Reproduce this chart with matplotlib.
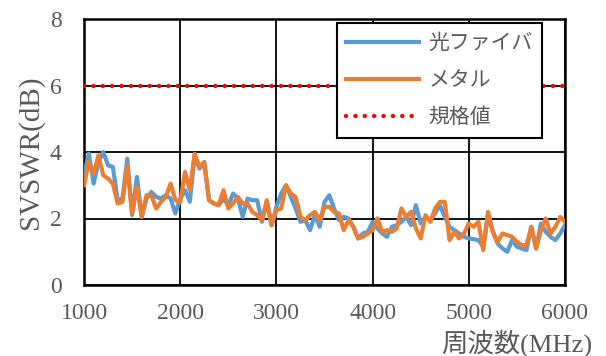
import numpy as np
import matplotlib
matplotlib.use("Agg")
import matplotlib.pyplot as plt

plt.rcParams['font.family'] = ['Liberation Serif', 'Noto Sans CJK JP']

# measured SVSWR, 1000-6000 MHz every 50 MHz
freq = list(range(1000, 6001, 50))
fiber = [3.3, 3.95, 3.05, 3.7, 4.0, 3.6, 3.55, 2.55, 2.6, 3.8,
         2.1, 3.25, 2.05, 2.6, 2.8, 2.65, 2.6, 2.7, 2.6, 2.15,
         2.6, 2.85, 2.5, 3.9, 3.5, 3.65, 2.55, 2.45, 2.4, 2.6,
         2.4, 2.75, 2.6, 2.05, 2.6, 2.55, 2.55, 1.9, 2.5, 1.8,
         2.35, 2.75, 3.0, 2.65, 2.3, 1.9, 1.95, 1.65, 2.1, 1.75,
         2.5, 2.7, 2.3, 1.95, 2.05, 2.0, 1.75, 1.4, 1.55, 1.6,
         1.9, 1.7, 1.55, 1.45, 1.75, 1.8, 1.9, 2.05, 1.8, 2.4,
         1.85, 2.05, 1.95, 2.15, 2.4, 2.05, 1.75, 1.65, 1.55, 1.45,
         1.4, 1.38, 1.35, 1.15, 2.1, 1.6, 1.25, 1.1, 1.0, 1.35,
         1.15, 1.1, 1.05, 1.75, 1.1, 1.85, 1.6, 1.45, 1.35, 1.55,
         1.8]
metal = [3.0, 3.7, 3.35, 3.9, 3.3, 3.2, 3.05, 2.45, 2.5, 3.6,
         2.15, 2.95, 2.05, 2.7, 2.7, 2.3, 2.5, 2.65, 3.05, 2.55,
         2.5, 3.4, 2.85, 3.95, 3.55, 3.7, 2.55, 2.45, 2.4, 2.85,
         2.3, 2.45, 2.65, 2.45, 2.45, 2.2, 2.1, 1.95, 2.55, 1.8,
         2.25, 2.3, 3.0, 2.75, 2.65, 2.05, 1.95, 2.1, 2.2, 1.95,
         2.35, 2.35, 2.2, 2.15, 1.65, 1.95, 1.75, 1.4, 1.45, 1.55,
         1.65, 2.0, 1.6, 1.65, 1.6, 1.7, 2.3, 2.05, 2.2, 1.7,
         1.4, 2.1, 1.9, 2.3, 2.5, 2.5, 1.35, 1.6, 1.4, 1.55,
         1.85, 1.75, 1.9, 1.05, 2.2, 1.6, 1.3, 1.55, 1.5, 1.45,
         1.3, 1.2, 1.2, 1.75, 1.1, 1.65, 2.0, 1.55, 1.75, 2.05,
         1.9]
limit = 6.0
series_names = ['光ファイバ', 'メタル', '規格値']

fig = plt.figure(figsize=(6.06, 3.56), dpi=100)
ax = fig.add_axes([84/606, 1-285/356, 481/606, 266/356])

ax.plot(freq, fiber, color='#5B9BD5', lw=3.0, solid_joinstyle='round', label=series_names[0], zorder=3)
ax.plot(freq, metal, color='#ED7D31', lw=3.0, solid_joinstyle='round', label=series_names[1], zorder=4)
ax.plot([freq[0], freq[-1]], [limit, limit], color='#FF0000', lw=3.2,
        linestyle=(0, (0.01, 2.1)), dash_capstyle='round', label=series_names[2], zorder=5)

ax.set_xlim(1000, 6000)
ax.set_ylim(0, 8)
ax.set_xticks(range(1000, 6001, 1000))
ax.set_yticks(range(0, 9, 2))
ax.grid(True, color='black', lw=1.3)
ax.set_axisbelow(True)
for s in ax.spines.values():
    s.set_linewidth(1.8)
    s.set_color('black')
ax.tick_params(length=0, labelsize=17, labelcolor='#595959')
ax.tick_params(axis='x', pad=13)
ax.tick_params(axis='y', pad=16)

ax.set_ylabel('SVSWR(dB)', fontsize=21, color='#595959', labelpad=4)
fig.text(592/606, 1-343/356, '周波数(MHz)', fontsize=19, color='#595959',
         ha='right', va='center', family=['Liberation Serif', 'Noto Sans CJK JP'])

leg = ax.legend(loc='upper right', bbox_to_anchor=(542/606, 1-23/356),
                bbox_transform=fig.transFigure, handlelength=3.5, handletextpad=0.45,
                labelspacing=0.72, borderpad=0.45, borderaxespad=0, fancybox=False,
                framealpha=1, edgecolor='black',
                prop={'family': ['Noto Sans CJK JP'], 'size': 15})
leg.get_frame().set_linewidth(1.5)
for t in leg.get_texts():
    t.set_color('#595959')
leg.set_zorder(10)

fig.savefig('out.png', dpi=100)
